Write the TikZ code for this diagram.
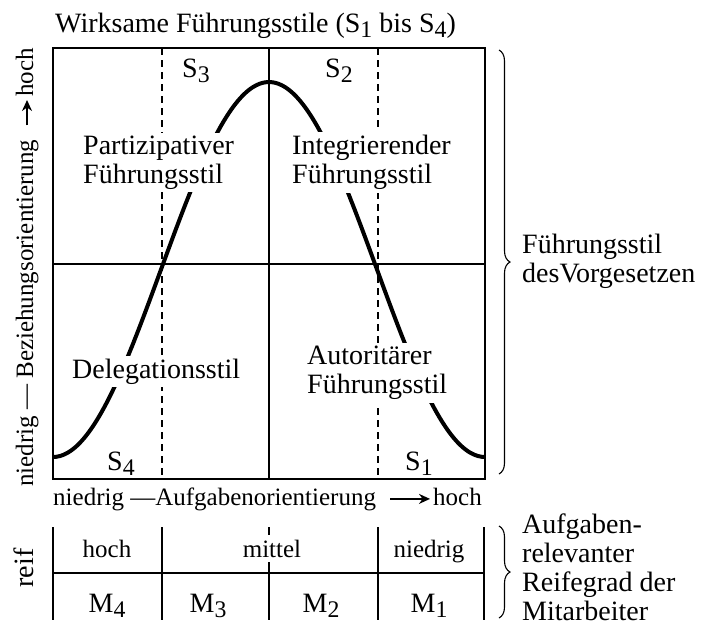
\documentclass[tikz,border=0pt]{standalone}
\usepackage{fontspec}
\setmainfont{Liberation Serif}
\usepackage{graphicx}
\usetikzlibrary{arrows.meta,decorations.pathreplacing}
\newcommand\sbx[1]{\raisebox{-0.2em}{\scalebox{0.85}{#1}}}
\begin{document}
\begin{tikzpicture}[x=1pt,y=-1pt,
  txt/.style={font=\fontsize{28}{29}\selectfont, inner sep=2pt},
  lbl/.style={txt, fill=white, align=left, inner sep=3pt},
  ax/.style={font=\fontsize{25}{27}\selectfont, inner sep=1pt},
  frame/.style={line width=2pt},
  thinline/.style={line width=1.4pt},
  dsh/.style={line width=1.8pt, dash pattern=on 7pt off 5pt},
  curve/.style={line width=4pt},
  brc/.style={decorate, decoration={brace, amplitude=11pt}, line width=1.1pt},
  arr/.style={-{Stealth[length=11pt,width=10pt]}, line width=1.6pt}]

\useasboundingbox (0,0) rectangle (703,630);

% dashed separators
\draw[dsh] (162,48) -- (162,479);
\draw[dsh] (378,48) -- (378,479);

% bell curve
\draw[curve] plot[domain=53:485, samples=120, smooth] (\x, {457-187.5*(1+cos((\x-269)*0.83333))});

% quadrant labels
\node[lbl, anchor=west] (partiz) at (80,162.5) {Partizipativer\\Führungsstil};
\node[lbl, anchor=west] (integ) at (289,162.5) {Integrierender\\Führungsstil};
\node[lbl, anchor=base west] (deleg) at (69,378) {Delegationsstil};
\node[lbl, anchor=west] (autor) at (304,373) {Autoritärer\\Führungsstil};

% S labels
\node[txt, anchor=base west] (s3) at (180,77) {S\sbx{3}};
\node[txt, anchor=base west] (s2) at (323,77) {S\sbx{2}};
\node[txt, anchor=base west] (s4) at (105,470) {S\sbx{4}};
\node[txt, anchor=base west] (s1) at (403,470) {S\sbx{1}};

% frame and axes of the grid
\draw[thinline] (269,48) -- (269,479);
\draw[thinline] (53,264) -- (485,264);
\draw[frame] (53,48) rectangle (485,479);

% title
\node[txt, anchor=base west] (title) at (53,32) {Wirksame Führungsstile (S\sbx{1} bis S\sbx{4})};

% horizontal axis label
\node[ax, anchor=base west] (xl) at (52,505) {niedrig —Aufgabenorientierung};
\node[ax, anchor=base west] (xh) at (432,505) {hoch};
\draw[arr, shorten <=13pt, shorten >=2pt] (xl.east) -- (xl.east -| xh.west);

% vertical axis label
\node[ax, rotate=90, anchor=base west] (yl) at (33,488) {niedrig — Beziehungsorientierung};
\node[ax, rotate=90, anchor=base west] (yh) at (33,98) {hoch};
\draw[arr, shorten <=13pt, shorten >=2pt] (yl.east) -- (yl.east |- yh.west);

% maturity table
\draw[frame] (53,527) -- (53,620);
\draw[frame] (162,527) -- (162,620);
\draw[thinline] (269,527) -- (269,620);
\draw[frame] (378,527) -- (378,620);
\draw[frame] (484,527) -- (484,620);
\draw[frame] (53,573) -- (484,573);
\node[ax, anchor=base] (th) at (107,557) {hoch};
\node[ax, anchor=base, fill=white, inner xsep=2pt, inner ysep=5pt] (tm) at (272,557) {mittel};
\node[ax, anchor=base] (tn) at (429,557) {niedrig};
\node[txt, anchor=base] (m4) at (107,612) {M\sbx{4}};
\node[txt, anchor=base] (m3) at (208,612) {M\sbx{3}};
\node[txt, anchor=base] (m2) at (321,612) {M\sbx{2}};
\node[txt, anchor=base] (m1) at (429,612) {M\sbx{1}};
\node[txt, rotate=90, anchor=base] (reif) at (33,568) {reif};

% braces and right labels
\draw[brc] (499,50) -- (499,474);
\draw[brc] (499,526) -- (499,618);
\node[txt, align=left, anchor=west] (fs) at (520,261) {Führungsstil\\desVorgesetzen};
\node[txt, align=left, anchor=west] (rg) at (520,567) {Aufgaben-\\relevanter\\Reifegrad der\\Mitarbeiter};
\end{tikzpicture}
\end{document}
